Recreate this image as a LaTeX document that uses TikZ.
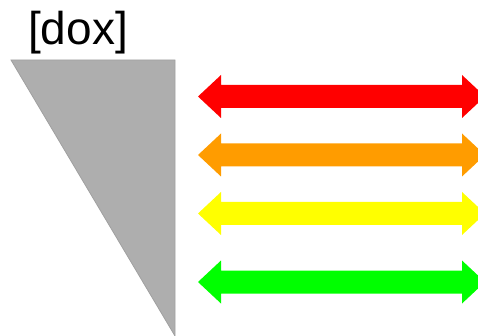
\documentclass[tikz,border=0pt]{standalone}
\usepackage{fontspec}
\setmainfont{Liberation Sans}
\definecolor{wedgefill}{HTML}{AEAEAE}
\definecolor{wedgeline}{HTML}{A0A0A0}
\definecolor{arrred}{HTML}{FF0000}
\definecolor{arrorange}{HTML}{FF9C00}
\definecolor{arryellow}{HTML}{FFFF00}
\definecolor{arrgreen}{HTML}{00FF00}
\tikzset{
  wedge/.style={fill=wedgefill, draw=wedgeline, line width=0.8pt},
  dblarrow/.style={fill=#1, draw=none},
  label/.style={inner sep=0pt, anchor=base west, font=\fontsize{46}{46}\selectfont}
}
% double-headed block arrow centred at height #2 (y grows downward)
\newcommand{\blockarrow}[2]{%
  \fill[dblarrow=#1]
    (198,#2) -- (221,#2-21.5) -- (221,#2-11.5) -- (462,#2-11.5) -- (462,#2-21.5)
    -- (485,#2) -- (462,#2+21.5) -- (462,#2+11.5) -- (221,#2+11.5) -- (221,#2+21.5) -- cycle;}
\begin{document}
\begin{tikzpicture}[x=1pt, y=-1pt]
  \useasboundingbox (0,0) rectangle (478,336);
  \clip (0,0) rectangle (478,336);
  \node[label] (title) at (28,45) {[dox]};
  \draw[wedge] (11,60) -- (175,60) -- (175,336) -- cycle;
  \blockarrow{arrred}{96.5}
  \blockarrow{arrorange}{155}
  \blockarrow{arryellow}{213.5}
  \blockarrow{arrgreen}{282}
\end{tikzpicture}
\end{document}
